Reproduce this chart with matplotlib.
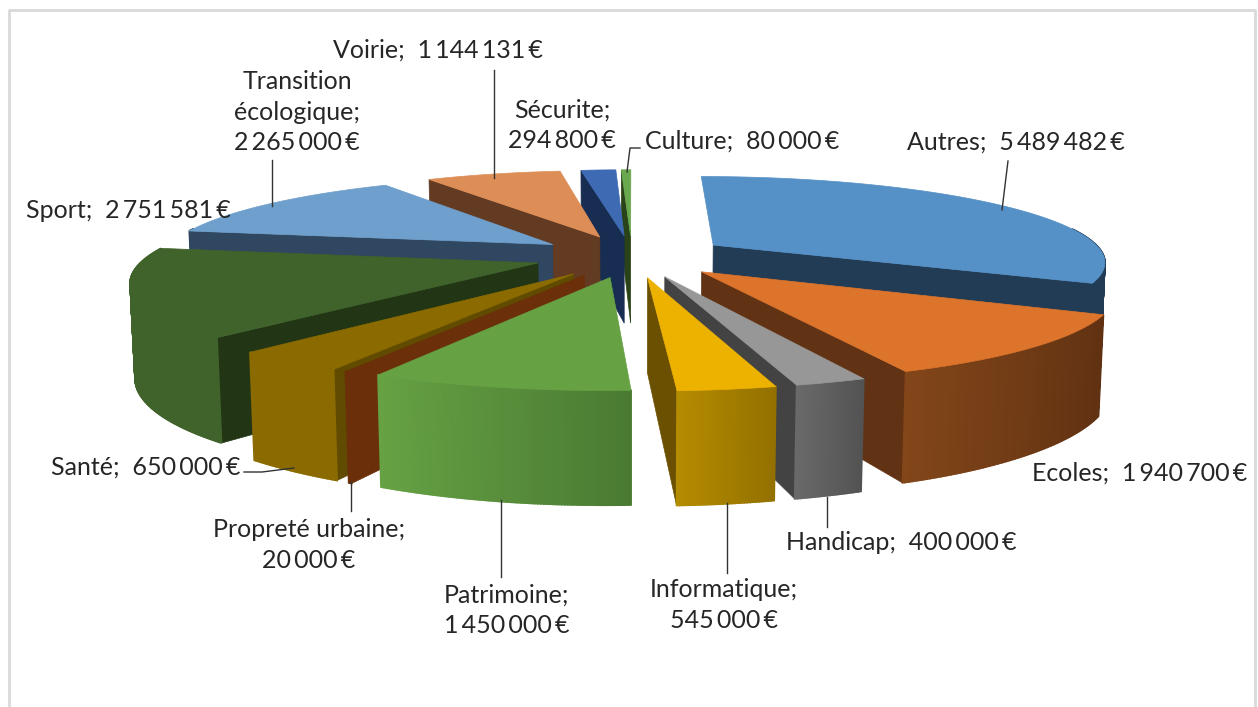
import numpy as np
import matplotlib
matplotlib.use('Agg')
import matplotlib.pyplot as plt

names = ['Autres', 'Ecoles', 'Handicap', 'Informatique', 'Patrimoine', 'Propreté urbaine',
         'Santé', 'Sport', 'Transition écologique', 'Voirie', 'Sécurite', 'Culture']
values = [5489482, 1940700, 400000, 545000, 1450000, 20000,
          650000, 2751581, 2265000, 1144131, 294800, 80000]
top_colors = ['#5590c6', '#dd742b', '#979797', '#edb100', '#66a244', '#6b300a',
              '#8b6b00', '#3f632a', '#6f9fcc', '#dd8e57', '#3e6ab3', '#6aa84f']
cut_colors = ['#223c55', '#623214', '#434343', '#6a5000', '#3f6429', '#6b300a',
              '#614b00', '#223615', '#2f4760', '#633a22', '#182d52', '#2a4218']
wall_start = ['#223c55', '#603112', '#525252', '#937000', '#4a7a32', '#6b300a',
              '#8b6b00', '#3f632a', '#2f4760', '#633a22', '#182d52', '#2a4218']
wall_end = ['#223c55', '#824619', '#6a6a6a', '#b58c00', '#66a244', '#6b300a',
            '#8b6b00', '#3f632a', '#2f4760', '#633a22', '#182d52', '#2a4218']

# label text, centre x, centre y in pixels
labels = [('Autres;  5\u2009489\u2009482\u2009€', 1016, 142),
          ('Ecoles;  1\u2009940\u2009700\u2009€', 1140, 473),
          ('Handicap;  400\u2009000\u2009€', 901, 543),
          ('Informatique;\n545\u2009000\u2009€', 724, 605),
          ('Patrimoine;\n1\u2009450\u2009000\u2009€', 507, 610),
          ('Propreté urbaine;\n20\u2009000\u2009€', 309, 545),
          ('Santé;  650\u2009000\u2009€', 146, 467),
          ('Sport;  2\u2009751\u2009581\u2009€', 128, 210),
          ('Transition\nécologique;\n2\u2009265\u2009000\u2009€', 297, 112),
          ('Voirie;  1\u2009144\u2009131\u2009€', 438, 50),
          ('Sécurite;\n294\u2009800\u2009€', 562, 125),
          ('Culture;  80\u2009000\u2009€', 742, 141)]
leaders = [([1008, 1002], [161, 210]), ([827, 827], [497, 527]),
           ([727, 727], [503, 573]), ([501, 501], [500, 577]), ([351, 351], [482, 511]),
           ([244, 262, 294], [472, 472, 468]), ([272, 272], [160, 206]), ([494, 494], [70, 178]),
           ([627, 630, 640], [172, 148, 148])]

cx, cy = 632, 256
F = 392.0
D = 5.5
c, s = 0.975, 0.215
h = 0.24
e = 0.25


def project(X, Y, Z):
    depth = D + Y * c - Z * s
    return cx + F * X * D / depth, cy - F * (Y * s + Z * c) * D / depth


def facing(nx, ny, X, Y):
    return nx * (X) + ny * (-D * c - Y) > 0


def mix(a, b, t):
    a = np.array(matplotlib.colors.to_rgb(a))
    b = np.array(matplotlib.colors.to_rgb(b))
    return a + (b - a) * t


fig = plt.figure(figsize=(12.58, 7.07), dpi=100)
ax = fig.add_axes([0, 0, 1, 1])
ax.set_xlim(0, 1258)
ax.set_ylim(707, 0)
ax.axis('off')
ax.plot([9, 9, 1255, 1255], [707, 10, 10, 707], color='#d9d9d9', lw=2)

total = sum(values)
edges = np.cumsum([0] + values) / total * 2 * np.pi
order = []
for i in range(len(values)):
    mid = (edges[i] + edges[i + 1]) / 2
    order.append((-np.cos(mid), i))

for _, i in sorted(order):
    t1, t2 = edges[i], edges[i + 1]
    mid = (t1 + t2) / 2
    ox, oy = e * np.sin(mid), e * np.cos(mid)
    n = max(4, int((t2 - t1) / 0.006))
    th = np.linspace(t1, t2, n)
    ax_x = ox + np.sin(th)
    ax_y = oy + np.cos(th)

    # cut faces
    for t, nx, ny in [(t1, -np.cos(t1), np.sin(t1)), (t2, np.cos(t2), -np.sin(t2))]:
        px, py = ox + np.sin(t), oy + np.cos(t)
        if facing(nx, ny, (ox + px) / 2, (oy + py) / 2):
            qx = [ox, px, px, ox]
            qy = [oy, py, py, oy]
            qz = [0, 0, -h, -h]
            u, v = project(np.array(qx), np.array(qy), np.array(qz))
            ax.fill(u, v, color=cut_colors[i], lw=0.5)

    # outer wall
    xs = np.sin(th)
    left, right = xs.min(), xs.max()
    for j in range(n - 1):
        tm = (th[j] + th[j + 1]) / 2
        if facing(np.sin(tm), np.cos(tm), ox + np.sin(tm), oy + np.cos(tm)):
            f = (np.sin(tm) - left) / max(right - left, 1e-6)
            qx = [ax_x[j], ax_x[j + 1], ax_x[j + 1], ax_x[j]]
            qy = [ax_y[j], ax_y[j + 1], ax_y[j + 1], ax_y[j]]
            qz = [0, 0, -h, -h]
            u, v = project(np.array(qx), np.array(qy), np.array(qz))
            col = mix(wall_end[i], wall_start[i], f)
            ax.fill(u, v, color=col, lw=1.2)

    # top
    u, v = project(np.r_[ox, ax_x], np.r_[oy, ax_y], np.zeros(n + 1))
    ax.fill(u, v, color=top_colors[i], lw=0.5)

for lx, ly in leaders:
    ax.plot(lx, ly, color='#333333', lw=1)

for txt, x, y in labels:
    ax.text(x, y, txt, ha='center', va='center', fontsize=18, color='#262626',
            family=['Lato', 'DejaVu Sans'], linespacing=1.38)

fig.savefig('out.png', dpi=100)
